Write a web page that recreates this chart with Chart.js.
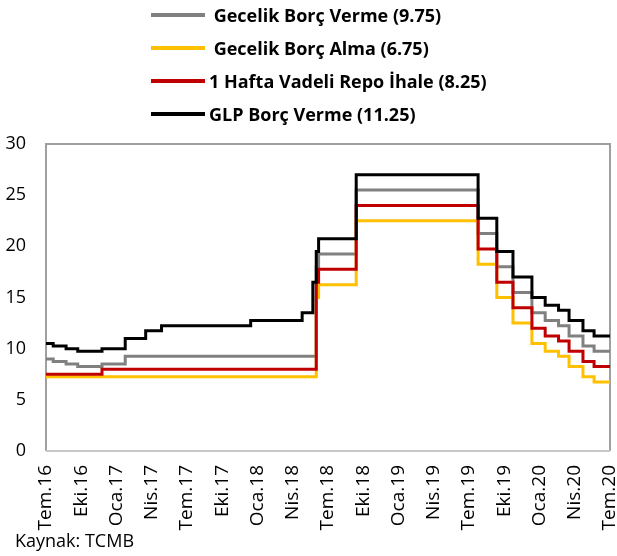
<!DOCTYPE html>
<html>
<head>
<meta charset="utf-8">
<script src="https://cdn.jsdelivr.net/npm/chart.js@4/dist/chart.umd.min.js"></script>
<style>
  html, body { margin: 0; padding: 0; background: #fff; }
  #wrap { position: relative; width: 617px; height: 556px; overflow: hidden; }
  #chart { position: absolute; left: 0; top: 0; }
  .row { position: absolute; left: 0; height: 18px; }
  .row .swatch { position: absolute; left: 151px; top: 7px; width: 54px; height: 4px; }
  .row .txt { position: absolute; left: 209px; top: 0; white-space: pre;
              font: bold 18px/18px "Open Sans", sans-serif; color: #000; }
  #source { position: absolute; left: 15px; top: 531px; font: 18px/18px "Open Sans", sans-serif; color: #000; }
</style>
</head>
<body>
<div id="wrap">
  <canvas id="chart" width="617" height="556"></canvas>
  <div id="legend"></div>
  <div id="source">Kaynak: TCMB</div>
</div>
<script>
// Eksen etiketleri (3 ayda bir)
const xTickLabels = ['Tem.16', 'Eki.16', 'Oca.17', 'Nis.17', 'Tem.17', 'Eki.17', 'Oca.18', 'Nis.18',
  'Tem.18', 'Eki.18', 'Oca.19', 'Nis.19', 'Tem.19', 'Eki.19', 'Oca.20', 'Nis.20', 'Tem.20'];

// Seri adları (legend)
const seriesNames = [' Gecelik Borç Verme (9.75)', ' Gecelik Borç Alma (6.75)',
  '1 Hafta Vadeli Repo İhale (8.25)', 'GLP Borç Verme (11.25)'];
const seriesColors = ['#808080', '#ffc000', '#c00000', '#000000'];

// Gecelik Borç Verme
const lendDates = ['2016-07-01', '2016-07-20', '2016-08-23', '2016-09-22', '2016-11-24', '2017-01-24',
  '2018-06-01', '2018-06-07', '2018-09-13', '2019-07-25', '2019-09-12', '2019-10-24', '2019-12-12',
  '2020-01-16', '2020-02-19', '2020-03-17', '2020-04-22', '2020-05-21', '2020-07-01'];
const lendValues = [9.00, 8.75, 8.50, 8.25, 8.50, 9.25,
  18.00, 19.25, 25.50, 21.25, 18.00, 15.50, 13.50,
  12.75, 12.25, 11.25, 10.25, 9.75, 9.75];

// Gecelik Borç Alma
const borrowDates = ['2016-07-01', '2018-06-01', '2018-06-07', '2018-09-13', '2019-07-25', '2019-09-12',
  '2019-10-24', '2019-12-12', '2020-01-16', '2020-02-19', '2020-03-17', '2020-04-22', '2020-05-21', '2020-07-01'];
const borrowValues = [7.25, 15.00, 16.25, 22.50, 18.25, 15.00,
  12.50, 10.50, 9.75, 9.25, 8.25, 7.25, 6.75, 6.75];

// 1 Hafta Vadeli Repo
const repoDates = ['2016-07-01', '2016-11-24', '2018-06-01', '2018-06-07', '2018-09-13', '2019-07-25',
  '2019-09-12', '2019-10-24', '2019-12-12', '2020-01-16', '2020-02-19', '2020-03-17', '2020-04-22',
  '2020-05-21', '2020-07-01'];
const repoValues = [7.50, 8.00, 16.50, 17.75, 24.00, 19.75,
  16.50, 14.00, 12.00, 11.25, 10.75, 9.75, 8.75,
  8.25, 8.25];

// GLP Borç Verme
const glpDates = ['2016-07-01', '2016-07-20', '2016-08-23', '2016-09-22', '2016-11-24', '2017-01-24',
  '2017-03-16', '2017-04-26', '2017-12-14', '2018-04-25', '2018-05-23', '2018-06-01', '2018-06-07',
  '2018-09-13', '2019-07-25', '2019-09-12', '2019-10-24', '2019-12-12', '2020-01-16', '2020-02-19',
  '2020-03-17', '2020-04-22', '2020-05-21', '2020-07-01'];
const glpValues = [10.50, 10.25, 10.00, 9.75, 10.00, 11.00,
  11.75, 12.25, 12.75, 13.50, 16.50, 19.50, 20.75,
  27.00, 22.75, 19.50, 17.00, 15.00, 14.25, 13.75,
  12.75, 11.75, 11.25, 11.25];

// Tarihi Temmuz 2016'dan itibaren ay sayısına çevir
function monthIndex(d) {
  const [y, m, day] = d.split('-').map(Number);
  const dim = new Date(y, m, 0).getDate();
  return (y - 2016) * 12 + (m - 7) + (day - 1) / dim;
}
function toPoints(dates, values) {
  return dates.map((d, i) => ({ x: monthIndex(d), y: values[i] }));
}

const allSeries = [
  toPoints(lendDates, lendValues),
  toPoints(borrowDates, borrowValues),
  toPoints(repoDates, repoValues),
  toPoints(glpDates, glpValues)
];

const fontFamily = '"Open Sans", sans-serif';

// Çizim alanının çerçevesi
const frame = {
  id: 'frame',
  beforeDatasetsDraw(chart) {
    const a = chart.chartArea, ctx = chart.ctx;
    ctx.save();
    ctx.lineWidth = 2;
    ctx.strokeStyle = '#a0a0a0';
    ctx.beginPath();
    ctx.moveTo(a.left, a.bottom);
    ctx.lineTo(a.left, a.top);
    ctx.lineTo(a.right, a.top);
    ctx.lineTo(a.right, a.bottom);
    ctx.stroke();
    ctx.strokeStyle = '#c8c8c8';
    ctx.beginPath();
    ctx.moveTo(a.left, a.bottom);
    ctx.lineTo(a.right, a.bottom);
    ctx.stroke();
    ctx.restore();
  }
};

const chart = new Chart(document.getElementById('chart'), {
  type: 'line',
  data: {
    datasets: allSeries.map((pts, i) => ({
      label: seriesNames[i],
      data: pts,
      borderColor: seriesColors[i],
      borderWidth: 3,
      stepped: true,
      pointRadius: 0,
      borderJoinStyle: 'miter',
      order: 4 - i
    }))
  },
  options: {
    responsive: false,
    animation: false,
    devicePixelRatio: 1,
    layout: { padding: { top: 144, left: 5, right: 7, bottom: 0 } },
    plugins: { legend: { display: false }, tooltip: { enabled: false } },
    scales: {
      x: {
        type: 'linear', min: 0, max: 48,
        grid: { display: false, drawTicks: false }, border: { display: false },
        ticks: {
          stepSize: 3, autoSkip: false, maxRotation: 90, minRotation: 90,
          padding: 14, color: '#000', font: { family: fontFamily, size: 19 },
          callback: v => xTickLabels[v / 3]
        },
        afterFit(scale) { scale.paddingLeft = 0; scale.paddingRight = 0; scale.height = 105; }
      },
      y: {
        min: 0, max: 30,
        grid: { display: false, drawTicks: false }, border: { display: false },
        ticks: { stepSize: 5, padding: 20, color: '#000', font: { family: fontFamily, size: 18 } },
        afterFit(scale) { scale.paddingTop = 0; scale.paddingBottom = 0; scale.width = 41; }
      }
    }
  },
  plugins: [frame]
});

// HTML legend, seri verilerinden
const legend = document.getElementById('legend');
chart.data.datasets.forEach((ds, i) => {
  const row = document.createElement('div');
  row.className = 'row';
  row.style.top = (6 + i * 33) + 'px';
  row.innerHTML = `<span class="swatch" style="background:${ds.borderColor}"></span><span class="txt">${ds.label}</span>`;
  legend.appendChild(row);
});
</script>
</body>
</html>
